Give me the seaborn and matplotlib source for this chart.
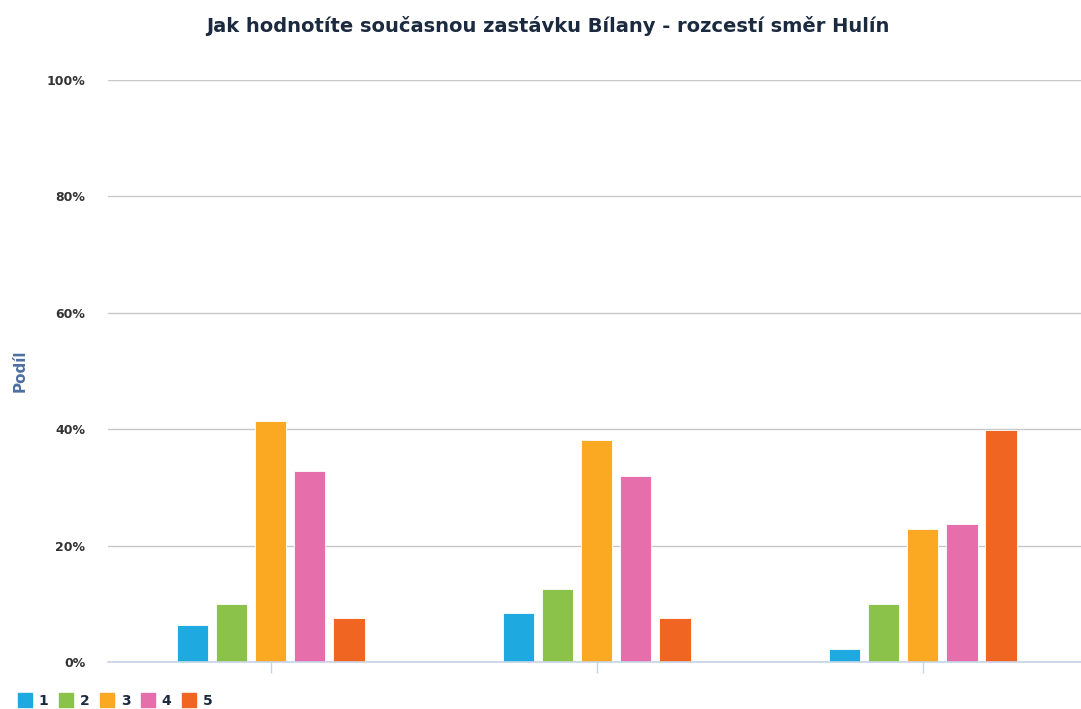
import matplotlib.pyplot as plt
import matplotlib.lines as mlines
import pandas as pd
import seaborn as sns

# Hodnocení zastávky (podíl odpovědí v %), tři skupiny respondentů
groups = ["skupina 1", "skupina 2", "skupina 3"]
ratings = ["1", "2", "3", "4", "5"]
share_group1 = [6.4, 10.0, 41.5, 32.8, 7.6]
share_group2 = [8.4, 12.5, 38.2, 32.0, 7.6]
share_group3 = [2.2, 10.0, 22.9, 23.7, 39.9]

colors = ["#1FA9E1", "#8BC34A", "#FBA823", "#E56EAB", "#F06522"]

rows = []
for g, vals in zip(groups, [share_group1, share_group2, share_group3]):
    for r, v in zip(ratings, vals):
        rows.append({"skupina": g, "hodnoceni": r, "podil": v})
df = pd.DataFrame(rows)

sns.set_style("white")
plt.rcParams['font.family'] = ['DejaVu Sans']

fig = plt.figure(figsize=(10.81, 7.09), dpi=100)
ax = fig.add_axes([0.0995, 0.0663, 0.905, 0.8207])

sns.barplot(data=df, x="skupina", y="podil", hue="hodnoceni", order=groups,
            hue_order=ratings, palette=colors, saturation=1, width=0.6, gap=0.2,
            edgecolor="white", linewidth=0.6, ax=ax, legend=False, zorder=3)

ax.set_ylim(0, 100)
ax.set_xlim(-0.5, 2.5)
ax.set_yticks([0, 20, 40, 60, 80, 100])
ax.set_yticklabels([f"{t}%" for t in [0, 20, 40, 60, 80, 100]],
                   fontsize=9, fontweight="bold", color="#333333")
ax.set_xticks([0, 1, 2])
ax.set_xticklabels(["", "", ""])
ax.grid(axis="y", color="#C8C8C8", linewidth=1, zorder=0)
for s in ["top", "right", "left"]:
    ax.spines[s].set_visible(False)
ax.spines["bottom"].set_color("#C6D4E6")
ax.spines["bottom"].set_linewidth(1.2)
ax.spines["bottom"].set_zorder(4)
ax.tick_params(axis="x", bottom=True, length=8, color="#C6D4E6", width=1, direction="out")
ax.tick_params(axis="y", length=0, pad=16)
ax.set_xlabel("")
ax.set_ylabel("Podíl", fontsize=11, fontweight="bold", color="#4F6F9F")
ax.yaxis.set_label_coords(-0.082, 0.5)

fig.suptitle("Jak hodnotíte současnou zastávku Bílany - rozcestí směr Hulín",
             x=0.507, y=0.978, fontsize=14, fontweight="bold", color="#1B2A3F")

handles = [mlines.Line2D([], [], marker="s", linestyle="none", markersize=10,
                         markerfacecolor=c, markeredgecolor=c, label=r)
           for c, r in zip(colors, ratings)]
fig.legend(handles=handles, loc="lower left", bbox_to_anchor=(0.005, -0.016),
           ncol=5, frameon=False, handlelength=1.0, handletextpad=0.5,
           columnspacing=0.75, prop={"size": 10, "weight": "bold"},
           labelcolor="#1B2A3F")

fig.savefig("out.png", dpi=100)
